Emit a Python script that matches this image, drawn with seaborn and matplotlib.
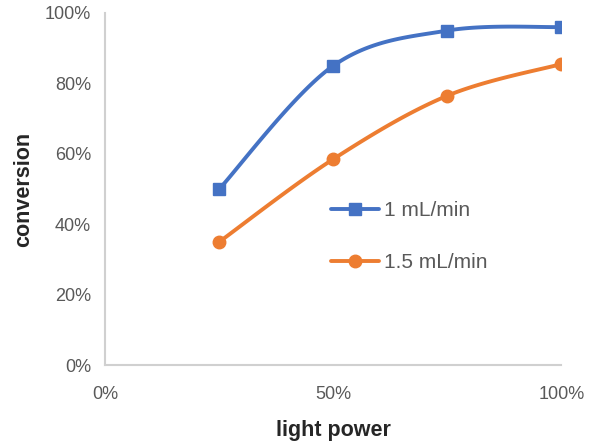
import numpy as np
import matplotlib
matplotlib.use("Agg")
import matplotlib.pyplot as plt
import seaborn as sns
from matplotlib.lines import Line2D

# datos
light_power = [0.25, 0.50, 0.75, 1.00]
conv_1 = [0.50, 0.85, 0.95, 0.96]
conv_15 = [0.35, 0.585, 0.765, 0.855]
series_names = ["1 mL/min", "1.5 mL/min"]
x_ticks = [0, 0.5, 1.0]
y_ticks = [0, 0.2, 0.4, 0.6, 0.8, 1.0]

blue = "#4472C4"
orange = "#ED7D31"


def smooth(xs, ys, n=40):
    # curva suave tipo Excel (Catmull-Rom con Bezier)
    p = np.column_stack([xs, ys])
    pts = np.vstack([p[0], p, p[-1]])
    out = []
    t = np.linspace(0, 1, n)[:, None]
    for i in range(1, len(pts) - 2):
        p0, p1, p2, p3 = pts[i - 1], pts[i], pts[i + 1], pts[i + 2]
        c1 = p1 + (p2 - p0) / 6
        c2 = p2 - (p3 - p1) / 6
        seg = ((1 - t) ** 3) * p1 + 3 * ((1 - t) ** 2) * t * c1 + 3 * (1 - t) * t ** 2 * c2 + t ** 3 * p2
        out.append(seg)
    out = np.vstack(out)
    return out[:, 0], out[:, 1]


sns.set_style("white")
plt.rcParams['font.family'] = ['Liberation Sans', 'DejaVu Sans']

fig, ax = plt.subplots(figsize=(5.94, 4.47), dpi=100)
fig.subplots_adjust(left=0.177, right=0.945, top=0.971, bottom=0.183)

for vals, col, mk, ms in [(conv_1, blue, 's', 9), (conv_15, orange, 'o', 9)]:
    sx, sy = smooth(light_power, vals)
    sns.lineplot(x=sx, y=sy, sort=False, estimator=None, color=col, lw=2.8, ax=ax)
    ax.plot(light_power, vals, linestyle='none', marker=mk, markersize=ms, color=col)

ax.set_xlim(0, 1.0)
ax.set_ylim(0, 1.0)
ax.set_xticks(x_ticks)
ax.set_yticks(y_ticks)
ax.set_xticklabels([f"{int(v*100)}%" for v in x_ticks])
ax.set_yticklabels([f"{int(round(v*100))}%" for v in y_ticks])
ax.tick_params(axis='both', length=0, labelsize=13, labelcolor='#595959')
ax.tick_params(axis='x', pad=15)
ax.tick_params(axis='y', pad=10)

for s in ['top', 'right']:
    ax.spines[s].set_visible(False)
for s in ['left', 'bottom']:
    ax.spines[s].set_color('#d0d0d0')
    ax.spines[s].set_linewidth(1.5)

ax.set_xlabel("light power", fontsize=15.5, fontweight='bold', labelpad=12)
ax.set_ylabel("conversion", fontsize=15.5, fontweight='bold', labelpad=8)

handles = [
    Line2D([], [], color=blue, lw=2.8, marker='s', markersize=9),
    Line2D([], [], color=orange, lw=2.8, marker='o', markersize=9),
]
leg = ax.legend(handles, series_names, loc='center left', bbox_to_anchor=(0.455, 0.365),
                frameon=False, fontsize=15, labelspacing=1.6, handlelength=2.3,
                handletextpad=0.2)
for t in leg.get_texts():
    t.set_color('#595959')

plt.savefig("out.png", dpi=100)
